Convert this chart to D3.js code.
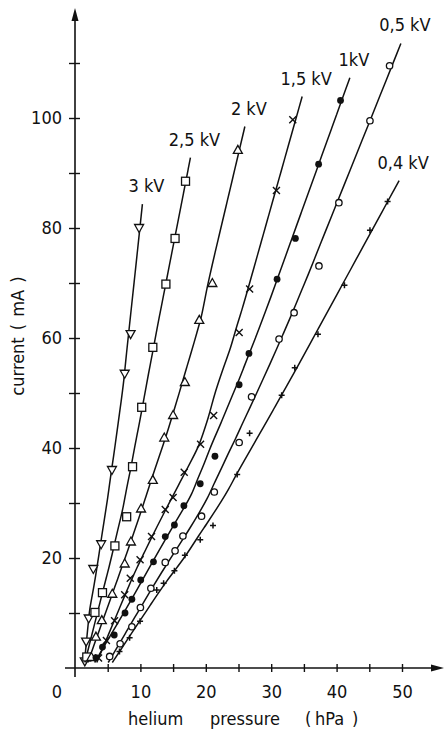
<!DOCTYPE html>
<html>
<head>
<meta charset="utf-8">
<script src="https://cdnjs.cloudflare.com/ajax/libs/d3/7.8.5/d3.min.js"></script>
<style>
  body { margin: 0; background: #ffffff; }
  svg { display: block; }
  text { font-family: "DejaVu Sans Condensed", "DejaVu Sans", sans-serif; font-stretch: condensed; fill: #111; }
</style>
</head>
<body>
<script>
// current vs. helium pressure for different voltages

// series names (as printed next to the curves)
var voltages = ["3 kV", "2,5 kV", "2 kV", "1,5 kV", "1kV", "0,5 kV", "0,4 kV"];
var markerTypes = ["triDown", "square", "triUp", "cross", "dot", "circle", "plus"];

// pressure (hPa) and current (mA) per series
var p3kV  = [1.5, 1.7, 2.1, 2.8, 4.0, 5.65, 7.6, 8.5, 9.8];
var i3kV  = [1.2, 4.8, 9.0, 18.0, 22.5, 36.0, 53.5, 60.7, 80.0];

var p25kV = [1.8, 3.05, 4.2, 6.1, 7.9, 8.8, 10.2, 11.9, 13.9, 15.3, 16.9];
var i25kV = [2.0, 10.1, 13.7, 22.2, 27.5, 36.6, 47.4, 58.3, 69.8, 78.1, 88.5];

var p2kV  = [2.5, 3.2, 4.1, 5.7, 7.6, 8.55, 10.1, 11.9, 13.65, 15.0, 16.8, 19.0, 21.0, 24.9];
var i2kV  = [2.0, 5.7, 8.7, 13.5, 19.0, 23.0, 29.0, 34.2, 41.9, 46.0, 52.0, 63.3, 70.0, 94.2];

var p15kV = [3.6, 4.8, 6.05, 7.6, 8.45, 9.95, 11.7, 13.8, 15.0, 16.7, 19.2, 21.2, 25.1, 26.7, 30.8, 33.3];
var i15kV = [1.8, 5.0, 8.6, 13.3, 16.3, 19.7, 23.9, 28.8, 31.0, 35.6, 40.7, 45.9, 61.0, 68.9, 86.8, 99.7];

var p1kV  = [3.2, 4.2, 6.0, 7.65, 8.7, 10.05, 12.0, 13.8, 15.2, 16.65, 19.15, 21.4, 25.1, 26.6, 30.9, 33.7, 37.25, 40.6];
var i1kV  = [1.9, 3.8, 6.0, 10.0, 12.5, 16.0, 19.3, 23.9, 26.0, 29.5, 33.5, 38.5, 51.5, 57.2, 70.7, 78.1, 91.6, 103.2];

var p05kV = [5.3, 6.9, 8.7, 10.0, 11.6, 13.8, 15.3, 16.5, 19.35, 21.3, 25.1, 27.0, 31.2, 33.5, 37.3, 40.35, 45.1, 48.1];
var i05kV = [2.1, 4.4, 7.5, 11.0, 14.5, 19.2, 21.3, 24.0, 27.6, 32.0, 41.0, 49.3, 59.8, 64.6, 73.1, 84.6, 99.5, 109.5];

var p04kV = [6.8, 8.35, 9.95, 12.5, 13.55, 15.2, 16.8, 19.15, 21.1, 24.8, 26.7, 31.6, 33.6, 37.15, 41.2, 45.1, 47.8];
var i04kV = [3.0, 5.5, 8.5, 14.2, 15.4, 17.7, 20.5, 23.3, 25.9, 35.2, 42.7, 49.6, 54.6, 60.7, 69.6, 79.6, 84.8];

var pressures = [p3kV, p25kV, p2kV, p15kV, p1kV, p05kV, p04kV];
var currents  = [i3kV, i25kV, i2kV, i15kV, i1kV, i05kV, i04kV];

// axis ticks
var xTicks = [5, 10, 15, 20, 25, 30, 35, 40, 45, 50];
var xLabels = [10, 20, 30, 40, 50];
var yTicks = [10, 20, 30, 40, 50, 60, 70, 80, 90, 100, 110];
var yLabels = [20, 40, 60, 80, 100];

window.onload = function(){
    drawChart()
};

// robust local linear (loess) smoothing of pressure against current,
// the curves in the figure are drawn through the scatter by hand
function loessFit(cur, pres, span){
    var n = cur.length;
    var k = Math.max(5, Math.ceil(span * n));
    var robust = cur.map(function(){ return 1; });

    function local(c){
        var d = cur.map(function(x){ return Math.abs(x - c); });
        var sorted = d.slice().sort(function(a, b){ return a - b; });
        var bw = Math.max(sorted[Math.min(k, n) - 1], 1e-6) * 1.1;
        var sw = 0, sx = 0, sy = 0, sxx = 0, sxy = 0;
        for (var j = 0; j < n; j++) {
            var u = d[j] / bw;
            if (u >= 1) continue;
            var wt = Math.pow(1 - u * u * u, 3) * robust[j];
            sw += wt; sx += wt * cur[j]; sy += wt * pres[j];
            sxx += wt * cur[j] * cur[j]; sxy += wt * cur[j] * pres[j];
        }
        var den = sw * sxx - sx * sx;
        var b = Math.abs(den) > 1e-9 ? (sw * sxy - sx * sy) / den : 0;
        var a = (sy - b * sx) / sw;
        return a + b * c;
    }

    // two passes that down-weight points lying far off the curve
    for (var it = 0; it < 2; it++) {
        var res = cur.map(function(c, j){ return Math.abs(pres[j] - local(c)); });
        var med = d3.median(res) || 1e-6;
        robust = res.map(function(r){
            var u = r / (6 * med);
            return u < 1 ? Math.pow(1 - u * u, 2) : 0;
        });
    }
    return local;
}

function drawChart(){
    var svg = d3.select("body").append("svg").attr("width", 446).attr("height", 735);

    var margin = {top: 63, right: 44, bottom: 67, left: 75};
    var w = +svg.attr("width") - margin.left - margin.right;
    var h = +svg.attr("height") - margin.top - margin.bottom;
    var g = svg.append("g").attr("transform", "translate(" + margin.left + "," + margin.top + ")");

    var xScale = d3.scaleLinear()
        .domain([0, 50])
        .range([0, w]);

    var yScale = d3.scaleLinear()
        .domain([0, 110])
        .range([h, 0]);

    // axis lines with arrow heads
    g.append("line")
        .attr("x1", 0).attr("x2", 0)
        .attr("y1", h + 9).attr("y2", -44)
        .attr("stroke", "#111").attr("stroke-width", 1.6);
    g.append("path")
        .attr("d", "M0," + (-55) + "L-3.5,-42L3.5,-42Z")
        .attr("fill", "#111");

    g.append("line")
        .attr("x1", -10).attr("x2", w + 30)
        .attr("y1", h).attr("y2", h)
        .attr("stroke", "#111").attr("stroke-width", 1.6);
    g.append("path")
        .attr("d", "M" + (w + 42) + "," + h + "L" + (w + 29) + "," + (h - 3.5) + "L" + (w + 29) + "," + (h + 3.5) + "Z")
        .attr("fill", "#111");

    // x axis ticks
    var xAxis = g.append("g")
        .attr("class", "axis-x")
        .attr("transform", "translate(0," + h + ")")
        .call(d3.axisBottom(xScale)
            .tickValues(xTicks)
            .tickSize(4)
            .tickPadding(13)
            .tickFormat(function(d){ return xLabels.indexOf(d) >= 0 ? d : ""; }));
    xAxis.select(".domain").remove();
    xAxis.selectAll(".tick line").attr("y1", -4).attr("stroke", "#111").attr("stroke-width", 1.4);
    xAxis.selectAll(".tick text").style("font-size", "18px").attr("fill", "#111");

    // y axis ticks
    var yAxis = g.append("g")
        .attr("class", "axis-y")
        .call(d3.axisLeft(yScale)
            .tickValues(yTicks)
            .tickSize(6)
            .tickPadding(7)
            .tickFormat(function(d){ return yLabels.indexOf(d) >= 0 ? d : ""; }));
    yAxis.select(".domain").remove();
    yAxis.selectAll(".tick line").attr("x1", 5).attr("stroke", "#111").attr("stroke-width", 1.4);
    yAxis.selectAll(".tick text").style("font-size", "18px").attr("fill", "#111");

    // the origin label sits left of the axis
    g.append("text")
        .attr("x", xScale(0) - 18)
        .attr("y", h + 30)
        .style("text-anchor", "middle")
        .style("font-size", "18px")
        .text("0");

    // text label for the x axis, words spread out like in the figure
    var xTitle = g.append("text")
        .attr("y", h + 57)
        .style("font-size", "18px");
    xTitle.append("tspan").attr("x", 53).text("helium");
    xTitle.append("tspan").attr("x", 135).text("pressure");
    xTitle.append("tspan").attr("x", 230).text("(");
    xTitle.append("tspan").attr("x", 240).text("hPa");
    xTitle.append("tspan").attr("x", 277).text(")");

    // text label for the y axis
    g.append("text")
        .attr("transform", "rotate(-90)")
        .attr("x", -(yScale(60) - 2))
        .attr("y", -51)
        .style("text-anchor", "middle")
        .style("font-size", "18px")
        .style("word-spacing", "2px")
        .text("current ( mA )");

    var curve = d3.line()
        .x(function(d){ return d[0]; })
        .y(function(d){ return d[1]; })
        .curve(d3.curveBasis);

    for (var k = 0; k < voltages.length; k++) {
        var pres = pressures[k], cur = currents[k];
        var n = cur.length;
        var fit = loessFit(cur, pres, 0.5);

        // sample the smoothed curve from near the axis up to the last measured point
        var c0 = Math.min(cur[0], 1.0), c1 = cur[n - 1];
        var line = d3.range(0, 41).map(function(s){
            var c = c0 + (c1 - c0) * s / 40;
            return [xScale(fit(c)), yScale(c)];
        });

        // continue straight a bit beyond the last point, up to the label
        var a = line[38], z = line[40];
        var dx = z[0] - a[0], dy = z[1] - a[1];
        var len = Math.sqrt(dx * dx + dy * dy);
        var end = [z[0] + 24 * dx / len, z[1] + 24 * dy / len];
        line.push([z[0] + 12 * dx / len, z[1] + 12 * dy / len]);
        line.push(end);
        line.push(end);

        g.append("path")
            .attr("d", curve(line))
            .attr("fill", "none")
            .attr("stroke", "#111")
            .attr("stroke-width", 1.5);

        g.append("text")
            .attr("x", end[0] + 4)
            .attr("y", end[1] - 12)
            .style("text-anchor", "middle")
            .style("font-size", "18px")
            .text(voltages[k]);

        var pts = pres.map(function(p, j){ return [xScale(p), yScale(cur[j])]; });
        drawMarkers(g, pts, markerTypes[k]);
    }
}

function drawMarkers(g, pts, type){
    var m = g.selectAll(".m-" + type)
        .data(pts)
        .enter()
        .append("g")
        .attr("class", "m-" + type)
        .attr("transform", function(d){ return "translate(" + d[0] + "," + d[1] + ")"; });

    if (type == "triDown") {
        m.append("path").attr("d", "M-4.5,-3.5L4.5,-3.5L0,4.5Z")
            .attr("fill", "#fff").attr("stroke", "#111").attr("stroke-width", 1.3);
    } else if (type == "triUp") {
        m.append("path").attr("d", "M-4.5,3.5L4.5,3.5L0,-4.5Z")
            .attr("fill", "#fff").attr("stroke", "#111").attr("stroke-width", 1.3);
    } else if (type == "square") {
        m.append("rect").attr("x", -4).attr("y", -4).attr("width", 8).attr("height", 8)
            .attr("fill", "#fff").attr("stroke", "#111").attr("stroke-width", 1.3);
    } else if (type == "circle") {
        m.append("circle").attr("r", 3.2)
            .attr("fill", "#fff").attr("stroke", "#111").attr("stroke-width", 1.3);
    } else if (type == "dot") {
        m.append("circle").attr("r", 3.4).attr("fill", "#111");
    } else if (type == "cross") {
        m.append("path").attr("d", "M-3.5,-3.5L3.5,3.5M-3.5,3.5L3.5,-3.5")
            .attr("stroke", "#111").attr("stroke-width", 1.4);
    } else if (type == "plus") {
        m.append("path").attr("d", "M-3,0L3,0M0,-3L0,3")
            .attr("stroke", "#111").attr("stroke-width", 1.5);
    }
}
</script>
</body>
</html>
